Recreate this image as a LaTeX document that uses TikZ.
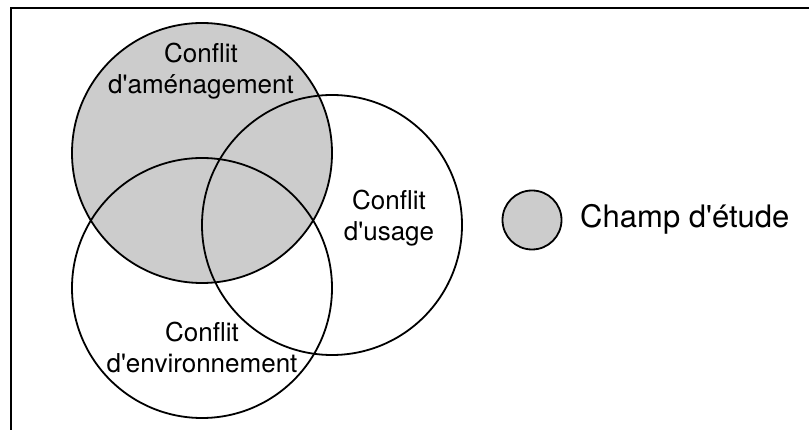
\documentclass[tikz,border=0pt]{standalone}
\usepackage{fontspec}
\setmainfont{TeX Gyre Heros}
\usetikzlibrary{positioning}
\definecolor{champ}{gray}{0.8}

\begin{document}
\begin{tikzpicture}
  [x=1pt,y=-1pt,line width=1.8pt,
  conflit/.style={circle,draw,minimum size=260pt,inner sep=0pt},
  etiquette/.style={align=center,font=\fontsize{26}{31}\selectfont}]
  \useasboundingbox (0,0) rectangle (809,430);

  % cadre
  \coordinate (bas) at (11,430);
  \coordinate (coin) at (11,8.5);
  \coordinate (droite) at (809,8.5);
  \draw[line width=2pt] (bas) -- (coin) -- (droite);

  % les trois conflits
  \node[conflit,fill=champ] (amenagement) at (202,153) {};
  \node[conflit] (usage) at (332,225) {};
  \node[conflit] (environnement) at (202,288) {};

  \node[etiquette] (t1) at (201,71) {Conflit\\d\textquotesingle aménagement};
  \node[etiquette] (t2) at (389,218) {Conflit\\d\textquotesingle usage};
  \node[etiquette] (t3) at (202,347) {Conflit\\d\textquotesingle environnement};

  % legende
  \node[circle,draw,fill=champ,minimum size=59pt,inner sep=0pt] (legende) at (532,220) {};
  \node[anchor=base west,font=\fontsize{31}{36}\selectfont] (champ) at (576,228) {Champ d\textquotesingle étude};
\end{tikzpicture}
\end{document}
